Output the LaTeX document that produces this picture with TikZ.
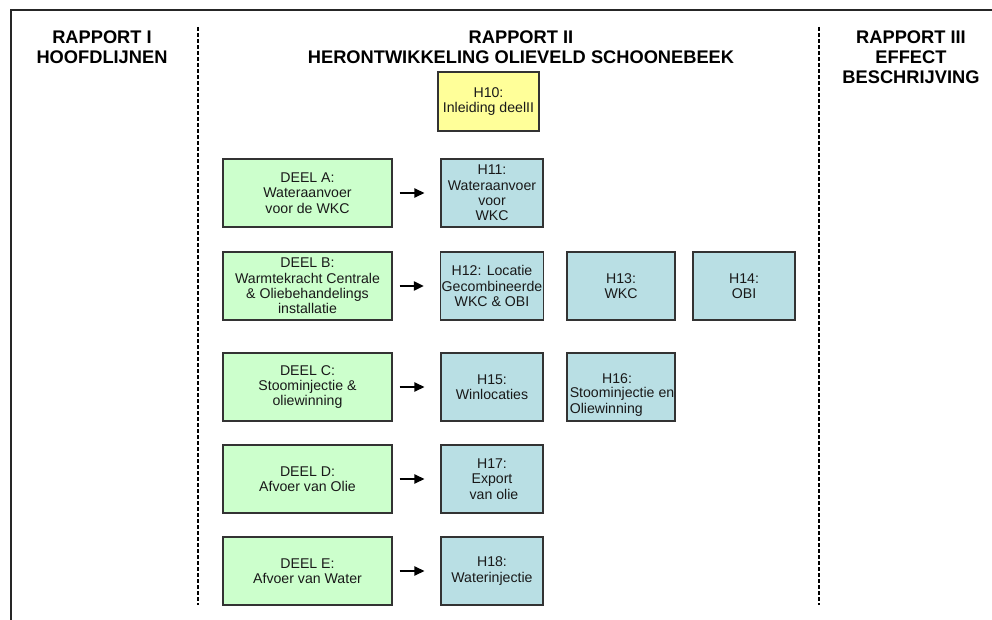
\documentclass[tikz,border=0pt]{standalone}
\usepackage{fontspec}
\setmainfont{Liberation Sans}
\usetikzlibrary{arrows.meta}
\definecolor{gbox}{HTML}{CCFFCC}
\definecolor{ybox}{HTML}{FFFF99}
\definecolor{bbox}{RGB}{185,223,228}
\begin{document}
\begin{tikzpicture}[x=0.75pt,y=-0.75pt,
 box/.style={draw=black!80, line width=0.9pt, align=center, inner sep=1pt, text=black!90, font=\fontsize{10.6}{11.6}\selectfont},
 greenbox/.style={box, fill=gbox, minimum width=126.75pt, minimum height=51pt},
 bluebox/.style={box, fill=bbox, minimum width=76.5pt, minimum height=51pt},
 titletext/.style={font=\fontsize{13.7}{15}\selectfont\bfseries, align=center, anchor=north, inner sep=0pt},
 sepline/.style={dash pattern=on 3pt off 1.5pt, line width=0.8pt},
 arr/.style={-{Triangle[length=7.5pt,width=7pt]}, line width=1pt, shorten <=5.25pt, shorten >=12pt},
 plain/.style={inner sep=0pt, font=\fontsize{10.6}{11.6}\selectfont, text=black!90}
]
\useasboundingbox (0,0) rectangle (992,620);
\fill[white] (0,0) rectangle (992,620);
% frame
\coordinate (tl) at (11,10); \coordinate (tr) at (992,10); \coordinate (bl) at (11,620);
\draw[line width=1.1pt, black!85] (tr) -- (tl) -- (bl);
% separators
\coordinate (s1a) at (198,27); \coordinate (s1b) at (198,605);
\coordinate (s2a) at (819,27); \coordinate (s2b) at (819,605);
\draw[sepline] (s1a) -- (s1b);
\draw[sepline] (s2a) -- (s2b);
% titles
\node[titletext] (t1) at (102,30) {RAPPORT I\\HOOFDLIJNEN};
\node[titletext] (t2) at (521,30) {RAPPORT II\\HERONTWIKKELING OLIEVELD SCHOONEBEEK};
\node[titletext] (t3) at (911,30) {RAPPORT III\\EFFECT\\BESCHRIJVING};
% H10
\node[box, fill=ybox, minimum width=75.75pt, minimum height=44.25pt] (h10) at (488.5,101.5) {H10:\\Inleiding deelII};
% green boxes
\node[greenbox] (da) at (307.5,193) {DEEL A:\\Wateraanvoer\\voor de WKC};
\node[greenbox] (db) at (307.5,286) {DEEL B:\\Warmtekracht Centrale\\\& Oliebehandelings\\installatie};
\node[greenbox] (dc) at (307.5,387) {DEEL C:\\Stoominjectie \&\\oliewinning};
\node[greenbox] (dd) at (307.5,479) {DEEL D:\\Afvoer van Olie};
\node[greenbox] (de) at (307.5,571) {DEEL E:\\Afvoer van Water};
% blue boxes
\node[bluebox] (h11) at (492,193) {H11:\\Wateraanvoer\\voor\\WKC};
\node[bluebox] (h12) at (492,286) {H12: Locatie\\Gecombineerde\\WKC \& OBI};
\node[bluebox, minimum width=81pt] (h13) at (621,286) {H13:\\WKC};
\node[bluebox] (h14) at (744,286) {H14:\\OBI};
\node[bluebox] (h15) at (492,387) {H15:\\Winlocaties};
\node[bluebox, minimum width=81pt] (h16) at (621,387) {};
\node[plain, anchor=base] (h16a) at (617,383.5) {H16:};
\node[plain, anchor=base west] (h16b) at (569.5,397.5) {Stoominjectie en};
\node[plain, anchor=base west] (h16c) at (569.5,413) {Oliewinning};
\node[bluebox] (h17) at (492,479) {H17:\\Export\\\ van olie};
\node[bluebox] (h18) at (492,571) {H18:\\Waterinjectie};
% arrows
\draw[arr] (da.east) -- (h11.west);
\draw[arr] (db.east) -- (h12.west);
\draw[arr] (dc.east) -- (h15.west);
\draw[arr] (dd.east) -- (h17.west);
\draw[arr] (de.east) -- (h18.west);
\end{tikzpicture}
\end{document}
